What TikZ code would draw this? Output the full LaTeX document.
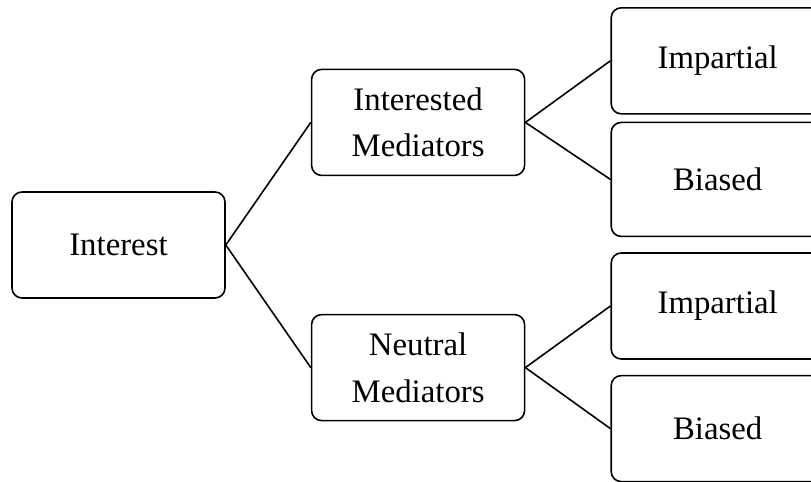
\documentclass[tikz,border=0pt]{standalone}
\usepackage{fontspec}
\setmainfont{Liberation Serif}
\usetikzlibrary{positioning}
\tikzset{box/.style={draw,rounded corners=5pt,minimum width=106.5pt,minimum height=53pt,
        inner sep=0pt,align=center,line width=0.8pt,font=\fontsize{16.4pt}{23.3pt}\selectfont}}
\tikzset{link/.style={line width=0.8pt}}

\begin{document}
\begin{tikzpicture}
                \clip (0,0) rectangle (405.5pt,-241pt);
                \node[box] (interest) at (59.25pt,-122.5pt) {Interest};
                \node[box] (interested) [above right=7.5pt and 42.5pt of interest] {Interested\\Mediators};
                \node[box] (neutral) [below right=7.5pt and 42.5pt of interest] {Neutral\\Mediators};
                \node[box] (imp1) [right=42.5pt of interested,yshift=30.8pt] {Impartial};
                \node[box,minimum height=57pt] (bia1) [right=42.5pt of interested,yshift=-28.5pt] {Biased};
                \node[box] (imp2) [right=42.5pt of neutral,yshift=30.8pt] {Impartial};
                \node[box] (bia2) [right=42.5pt of neutral,yshift=-30.5pt] {Biased};
                \path[link]
                    (interest.east) edge (interested.west)
                    (interest.east) edge (neutral.west)
                    (interested.east) edge (imp1.west)
                    (interested.east) edge (bia1.west)
                    (neutral.east) edge (imp2.west)
                    (neutral.east) edge (bia2.west);
            \end{tikzpicture}
\end{document}
